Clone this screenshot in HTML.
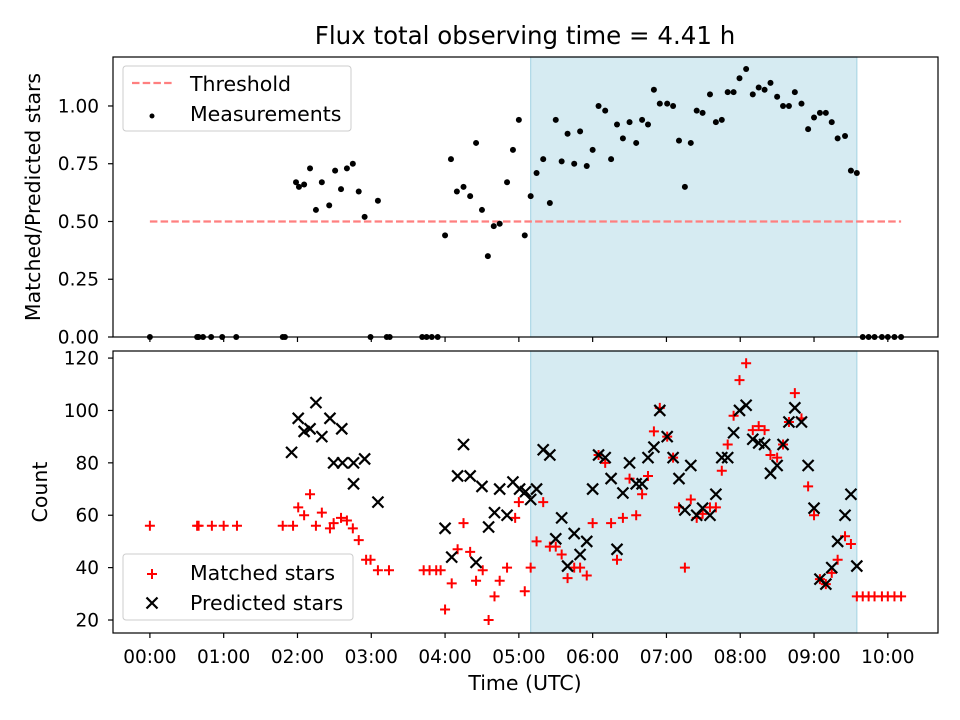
<!DOCTYPE html>
<html><head><meta charset="utf-8"><style>
body{margin:0;background:#fff}
svg{display:block;font-family:"DejaVu Sans","Liberation Sans",sans-serif}
</style></head><body>
<svg id="chart" width="960" height="720" viewBox="0 0 960 720" xmlns="http://www.w3.org/2000/svg"></svg>
<script>
const ratioTimes=[0,0.64,0.66,0.72,0.83,0.98,1.17,1.80,1.83,1.98,2.02,2.09,2.17,2.25,2.33,2.43,2.51,2.59,2.67,2.75,2.83,2.91,2.99,3.09,3.21,3.25,3.69,3.75,3.82,3.90,4.00,4.08,4.16,4.25,4.34,4.42,4.50,4.58,4.66,4.74,4.84,4.92,5.00,5.08,5.16,5.24,5.33,5.42,5.50,5.58,5.66,5.75,5.83,5.92,6.00,6.08,6.17,6.25,6.33,6.41,6.50,6.59,6.67,6.75,6.83,6.91,7.01,7.09,7.17,7.25,7.33,7.41,7.49,7.59,7.67,7.75,7.83,7.91,7.99,8.08,8.17,8.25,8.33,8.41,8.50,8.58,8.66,8.74,8.83,8.92,9.00,9.08,9.16,9.24,9.32,9.42,9.50,9.58,9.66,9.74,9.82,9.92,10.0,10.09,10.18];
const ratioValues=[0,0,0,0,0,0,0,0,0,0.67,0.65,0.66,0.73,0.55,0.67,0.57,0.72,0.64,0.73,0.75,0.63,0.52,0,0.59,0,0,0,0,0,0,0.44,0.77,0.63,0.65,0.61,0.84,0.55,0.35,0.48,0.49,0.67,0.81,0.94,0.44,0.61,0.71,0.77,0.58,0.94,0.76,0.88,0.75,0.89,0.74,0.81,1.00,0.98,0.77,0.92,0.86,0.93,0.84,0.94,0.92,1.07,1.01,1.01,1.00,0.85,0.65,0.84,0.98,0.97,1.05,0.93,0.94,1.06,1.06,1.12,1.16,1.05,1.08,1.07,1.10,1.04,1.00,1.00,1.06,1.01,0.90,0.95,0.97,0.97,0.93,0.86,0.87,0.72,0.71,0,0,0,0,0,0,0];
const matchedTimes=[0,0.64,0.66,0.84,1.00,1.18,1.80,1.94,2.01,2.09,2.17,2.25,2.33,2.44,2.49,2.59,2.67,2.75,2.83,2.93,2.99,3.09,3.24,3.71,3.79,3.88,3.94,4.00,4.09,4.17,4.25,4.34,4.42,4.51,4.59,4.67,4.74,4.84,4.95,5.00,5.08,5.16,5.24,5.33,5.42,5.50,5.58,5.66,5.75,5.83,5.92,6.00,6.08,6.17,6.25,6.33,6.41,6.50,6.59,6.67,6.75,6.83,6.91,7.01,7.09,7.17,7.25,7.33,7.41,7.49,7.59,7.67,7.75,7.83,7.91,7.99,8.08,8.17,8.25,8.33,8.41,8.50,8.58,8.66,8.74,8.83,8.92,9.00,9.08,9.16,9.24,9.32,9.42,9.50,9.58,9.66,9.74,9.82,9.92,10.0,10.09,10.18];
const matchedValues=[56,56,56,56,56,56,56,56,63,60,68,56,61,55,57,59,58,55,50.5,43,43,39,39,39,39,39,39,24,34,47,57,46,35,39,20,29,35,40,59,65,31,40,50,65,48,48,45,36,40,40,37,57,83,80,57,43,59,74,60,68,75,92,101,90,82,63,40,66,59,60.5,63,63,77,87,98,111.6,118,92.5,94,92.5,83,82,87,95.6,106.6,97,71,60,35.6,33.7,38,43,52,49,29,29,29,29,29,29,29,29];
const predTimes=[1.92,2.01,2.09,2.17,2.25,2.33,2.44,2.49,2.60,2.61,2.76,2.76,2.91,3.09,4.00,4.09,4.17,4.25,4.34,4.42,4.50,4.59,4.67,4.74,4.84,4.92,5.01,5.09,5.16,5.24,5.33,5.42,5.50,5.58,5.66,5.75,5.83,5.92,6.00,6.08,6.17,6.25,6.33,6.41,6.50,6.59,6.67,6.75,6.83,6.91,7.01,7.09,7.17,7.25,7.33,7.41,7.49,7.59,7.67,7.75,7.83,7.91,7.99,8.08,8.17,8.25,8.33,8.41,8.50,8.58,8.66,8.74,8.83,8.92,9.00,9.08,9.16,9.24,9.32,9.42,9.50,9.58];
const predValues=[84,97,92,93,103,90,97,80,93,80,80,72,81.5,65,55,44,75,87,75,42,71,55.5,61,70,60,72.7,70,69,66,70,85,83,51,59,40.6,53,45,50,70,83,82,74,47,68.5,80,72,72,82,86,100,90,82,74,62,79,60,62.7,60,68,82,82,91.5,100,102,89,87.6,87,76,79,87,95.6,101,95.6,79,62.7,35.6,33.7,40,50,60,68,40.6];
const xTickLabels=["00:00","01:00","02:00","03:00","04:00","05:00","06:00","07:00","08:00","09:00","10:00"];
const ratioTicks=[0,0.25,0.5,0.75,1.0];
const ratioTickLabels=["0.00","0.25","0.50","0.75","1.00"];
const countTicks=[20,40,60,80,100,120];
const threshold=[0,10.18,0.5];
const shadeRange=[5.16,9.58];

const NS="http://www.w3.org/2000/svg";
const svg=document.getElementById('chart');
function el(tag,attrs,parent){const e=document.createElementNS(NS,tag);for(const k in attrs)e.setAttribute(k,attrs[k]);(parent||svg).appendChild(e);return e;}
const L=113,R=938,T1=57,B1=337,T2=351,B2=633;
const xMin=-0.5,xMax=10.68;
const X=h=>L+(h-xMin)/(xMax-xMin)*(R-L);
const yMaxR=1.212;
const Y1=v=>B1-v/yMaxR*(B1-T1);
const cMin=15.04,cMax=122.7;
const Y2=c=>B2-(c-cMin)/(cMax-cMin)*(B2-T2);
const TF=18.5, LF=20.5;

el('text',{x:525,y:44,'text-anchor':'middle','font-size':'24.5',fill:'#000',}).textContent="Flux total observing time = 4.41 h";

function panel(top,bot,name){
  const g=el('g',{});  
  const r=el('rect',{x:X(shadeRange[0]),y:top,width:X(shadeRange[1])-X(shadeRange[0]),height:bot-top,fill:'#add8e6','fill-opacity':0.5,stroke:'#add8e6','stroke-width':1.2},g);
  
  
  return g;
}
const g1=panel(T1,B1,'ratio-panel');
const g2=panel(T2,B2,'count-panel');

const th=el('line',{x1:X(threshold[0]),x2:X(threshold[1]),y1:Y1(threshold[2]),y2:Y1(threshold[2]),stroke:'#ff7f7f','stroke-width':2.2,'stroke-dasharray':'7.5,3.2'},g1);



ratioTimes.forEach((t,i)=>{
  const c=el('circle',{cx:X(t),cy:Y1(ratioValues[i]),r:3,fill:'#000'},g1);
  
  
});

function plus(x,y,color,parent){return el('path',{d:`M${x-5},${y}H${x+5}M${x},${y-5}V${y+5}`,stroke:color,'stroke-width':2,fill:'none'},parent);}
function cross(x,y,color,parent){return el('path',{d:`M${x-5.5},${y-5.5}L${x+5.5},${y+5.5}M${x-5.5},${y+5.5}L${x+5.5},${y-5.5}`,stroke:color,'stroke-width':2.2,fill:'none'},parent);}
matchedTimes.forEach((t,i)=>{
  const p=plus(X(t),Y2(matchedValues[i]),'#ff0000',g2);
  
  
});
predTimes.forEach((t,i)=>{
  const p=cross(X(t),Y2(predValues[i]),'#000',g2);
  
  
});

[[T1,B1],[T2,B2]].forEach(([t,b],k)=>{
  const f=el('rect',{x:L,y:t,width:R-L,height:b-t,fill:'none',stroke:'#000','stroke-width':1.2});
  
  
});
xTickLabels.forEach((lab,i)=>{
  const x=X(i);
  el('line',{x1:x,x2:x,y1:B1,y2:B1+5,stroke:'#000','stroke-width':1.2});
  el('line',{x1:x,x2:x,y1:B2,y2:B2+5,stroke:'#000','stroke-width':1.2});
  const tx=el('text',{x:x,y:663,'text-anchor':'middle','font-size':TF,fill:'#000'});
  
  
  tx.textContent=lab;
});
ratioTicks.forEach((v,i)=>{
  const y=Y1(v);
  el('line',{x1:L-5,x2:L,y1:y,y2:y,stroke:'#000','stroke-width':1.2});
  const tx=el('text',{x:L-14,y:y+6.5,'text-anchor':'end','font-size':TF,fill:'#000'});
  
  
  tx.textContent=ratioTickLabels[i];
});
countTicks.forEach(v=>{
  const y=Y2(v);
  el('line',{x1:L-5,x2:L,y1:y,y2:y,stroke:'#000','stroke-width':1.2});
  const tx=el('text',{x:L-14,y:y+6.5,'text-anchor':'end','font-size':TF,fill:'#000'});
  
  
  tx.textContent=String(v);
});
el('text',{x:525,y:690,'text-anchor':'middle','font-size':LF,fill:'#000',}).textContent="Time (UTC)";
el('text',{x:40,y:197,'text-anchor':'middle','font-size':LF,fill:'#000',transform:'rotate(-90 40 197)',}).textContent="Matched/Predicted stars";
el('text',{x:47,y:492,'text-anchor':'middle','font-size':LF,fill:'#000',transform:'rotate(-90 47 492)',}).textContent="Count";

const lg1=el('g',{});
el('rect',{x:123,y:66,width:228,height:65,rx:3,fill:'#fff','fill-opacity':0.8,stroke:'#ccc'},lg1);
el('line',{x1:132,x2:173,y1:83,y2:83,stroke:'#ff7f7f','stroke-width':2.2,'stroke-dasharray':'7.5,3.2'},lg1);
el('text',{x:190,y:91,'font-size':LF,fill:'#000',},lg1).textContent="Threshold";
el('circle',{cx:152,cy:116,r:2.5,fill:'#000'},lg1);
el('text',{x:190,y:121,'font-size':LF,fill:'#000',},lg1).textContent="Measurements";
const lg2=el('g',{});
el('rect',{x:123,y:554,width:230,height:66,rx:3,fill:'#fff','fill-opacity':0.8,stroke:'#ccc'},lg2);
plus(152,574,'#ff0000',lg2);
el('text',{x:190,y:580,'font-size':LF,fill:'#000',},lg2).textContent="Matched stars";
cross(152,603,'#000',lg2);
el('text',{x:190,y:610,'font-size':LF,fill:'#000',},lg2).textContent="Predicted stars";
</script>
</body></html>
